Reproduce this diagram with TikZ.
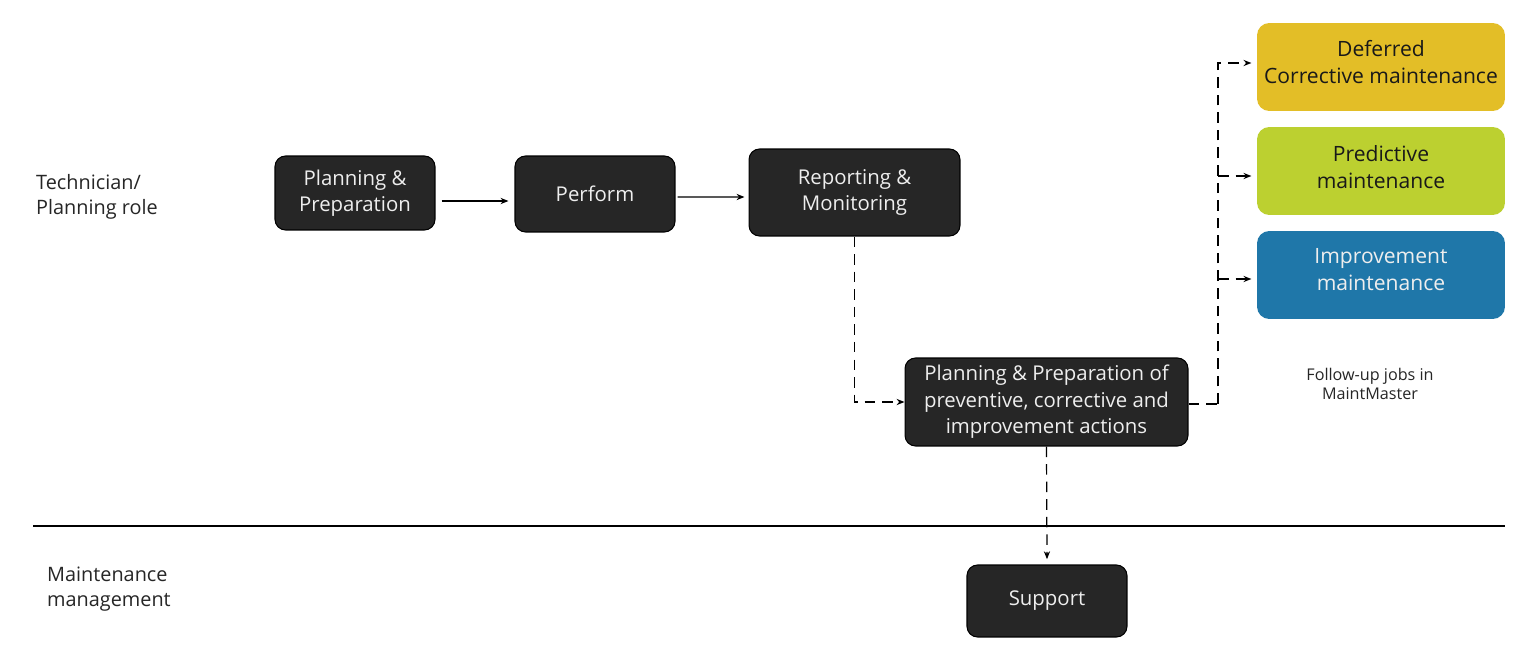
\documentclass[tikz,border=0pt]{standalone}
\usepackage{fontspec}
\setmainfont{Open Sans}
\usepackage{xcolor}
\usepackage{tikz}
\usetikzlibrary{arrows.meta}
\definecolor{boxdark}{HTML}{262626}
\definecolor{boxtext}{HTML}{EEEEEE}
\definecolor{deferredyellow}{HTML}{E3BE27}
\definecolor{predictgreen}{HTML}{BCD030}
\definecolor{improveblue}{HTML}{1F77A9}

\tikzset{
  darkbox/.style={draw=black, line width=0.6pt, fill=boxdark, text=boxtext, rounded corners=6pt, align=center,
    font=\fontsize{11.6}{15}\selectfont, inner sep=0pt},
  jobbox/.style={rounded corners=7pt, inner sep=0pt, minimum width=4.96cm, minimum height=1.76cm},
  jobtext/.style={align=center, font=\fontsize{12}{15.3}\selectfont, inner sep=0pt},
  lanelabel/.style={anchor=west, align=left, font=\fontsize{11.3}{14.5}\selectfont, text=black!85},
  flow/.style={line width=0.7pt, -{Stealth[length=4.5pt,width=3.5pt]}},
  dashflow/.style={flow, dash pattern=on 6pt off 4pt}
}

\begin{document}
\begin{tikzpicture}[x=0.02cm, y=-0.02cm]

% Page size (pixel grid)
\useasboundingbox[fill=white] (0,0) rectangle (1536,649);

% Lane labels
\node[lanelabel] (techlane) at (30,197) {Technician/\\Planning role};
\node[lanelabel] (mgmtlane) at (41,589) {Maintenance\\management};

% Lane separator
\draw[line width=1.2pt] (33,526) -- (1505,526);

% Process steps
\node[darkbox, minimum width=3.2cm, minimum height=1.48cm] (plan) at (355,193) {Planning \&\\Preparation};
\node[darkbox, minimum width=3.2cm, minimum height=1.52cm] (perform) at (595,194) {Perform};
\node[darkbox, minimum width=4.22cm, minimum height=1.74cm] (report) at (854.5,192.5) {Reporting \&\\Monitoring};
\node[darkbox, minimum width=5.66cm, minimum height=1.76cm] (actions) at (1046.5,402) {Planning \& Preparation of\\preventive, corrective and\\improvement actions};
\node[darkbox, minimum width=3.2cm, minimum height=1.44cm] (support) at (1047,601) {Support};

% Follow-up jobs (text sits a little above the box centre)
\node[jobbox, fill=deferredyellow] (deferred) at (1381,67) {};
\node[jobtext, text=black!90] (deferredtext) at (1381,62) {Deferred\\Corrective maintenance};
\node[jobbox, fill=predictgreen] (predictive) at (1381,171) {};
\node[jobtext, text=black!90] (predictivetext) at (1381,167) {Predictive\\maintenance};
\node[jobbox, fill=improveblue] (improvement) at (1381,275) {};
\node[jobtext, text=boxtext] (improvementtext) at (1381,270) {Improvement\\maintenance};
\node[align=center, font=\fontsize{9.2}{11}\selectfont, text=black!85] (followup) at (1370,384) {Follow-up jobs in\\MaintMaster};

% Connectors
\coordinate (split) at (1218,404);
\draw[flow] ([shift={(6,8)}]plan.east) -- ([shift={(-6,7)}]perform.west);
\draw[flow] ([shift={(2,3)}]perform.east) -- ([shift={(-4,4.5)}]report.west);
\draw[dashflow] (report.south) |- (actions.west);
\draw[dash pattern=on 6pt off 4pt, line width=0.7pt] (actions.east |- split) -- (split);
\draw[dashflow] (split) |- ([xshift=-3]deferred.west |- 0,63);
\draw[dashflow] (split |- 0,176) -- ([xshift=-3]predictive.west |- 0,176);
\draw[dashflow] (split |- 0,279) -- ([xshift=-3]improvement.west |- 0,279);
\draw[dashflow] (actions.south) -- ([yshift=3pt]support.north);

\end{tikzpicture}
\end{document}
